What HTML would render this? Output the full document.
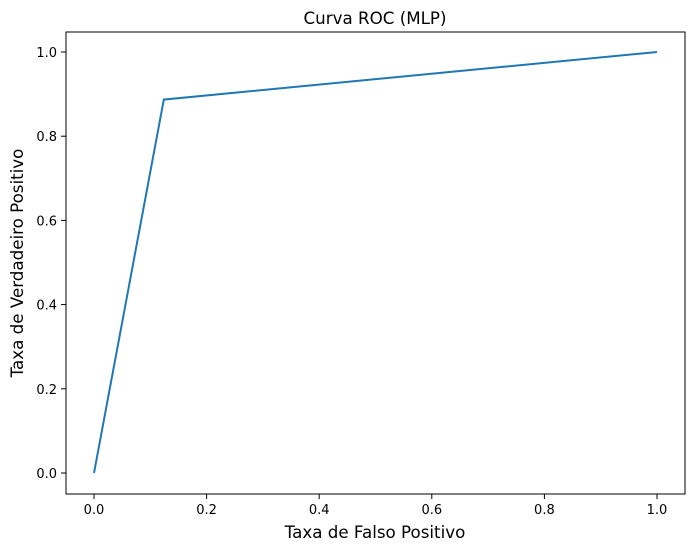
<!DOCTYPE html>
<html><head><meta charset="utf-8"><style>
body{margin:0;background:#fff;}
svg{display:block;font-family:"DejaVu Sans","Liberation Sans",sans-serif;}
</style></head><body>
<svg id="chart" width="695" height="551">
<rect x="0" y="0" width="695" height="551" fill="#fff"/>
<text x="375" y="24" text-anchor="middle" font-size="16.7">Curva ROC (MLP)</text>
<text x="375" y="538" text-anchor="middle" font-size="16.7">Taxa de Falso Positivo</text>
<text transform="translate(23,263) rotate(-90)" text-anchor="middle" font-size="16.7">Taxa de Verdadeiro Positivo</text>
<g id="axes"></g>
<rect x="66" y="32" width="619" height="462" fill="none" stroke="#000" stroke-width="1"/>
</svg>
<script>
const fpr=[0.0,0.124,1.0];
const tpr=[0.0,0.887,1.0];
const xTicks=[0.0,0.2,0.4,0.6,0.8,1.0];
const yTicks=[0.0,0.2,0.4,0.6,0.8,1.0];
const NS='http://www.w3.org/2000/svg';
const X=v=>94+v*563, Y=v=>473-v*421;
const g=document.getElementById('axes');
function mk(t,a){const e=document.createElementNS(NS,t);for(const k in a)e.setAttribute(k,a[k]);g.appendChild(e);return e;}
xTicks.forEach(v=>{
 const l=mk('line',{x1:X(v),x2:X(v),y1:494,y2:499,stroke:'#000'});
 
 
 const t=mk('text',{x:X(v),y:514,'text-anchor':'middle','font-size':13});
 t.textContent=v.toFixed(1);
 
 
});
yTicks.forEach(v=>{
 const l=mk('line',{x1:61,x2:66,y1:Y(v),y2:Y(v),stroke:'#000'});
 
 
 const t=mk('text',{x:57,y:Y(v)+5,'text-anchor':'end','font-size':13});
 t.textContent=v.toFixed(1);
 
 
});
const p=mk('polyline',{points:fpr.map((v,i)=>X(v)+','+Y(tpr[i])).join(' '),fill:'none',stroke:'#1f77b4','stroke-width':2});


</script>
</body></html>
